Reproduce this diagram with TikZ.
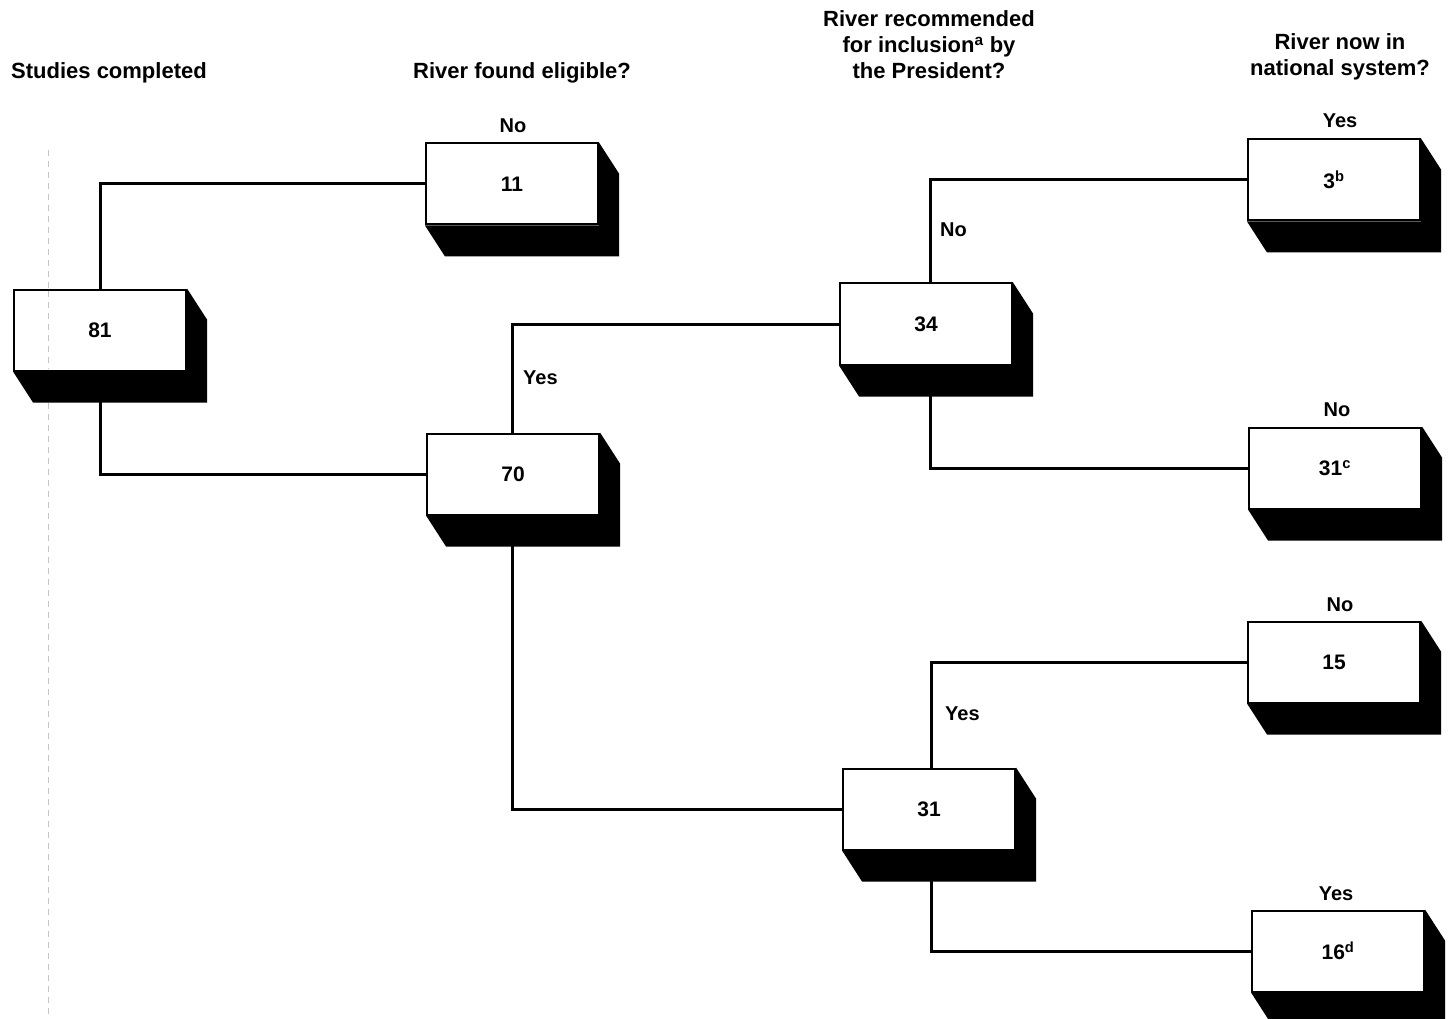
\documentclass[tikz,border=0pt]{standalone}
\usepackage{fontspec}
\setmainfont{Liberation Sans}
\usetikzlibrary{calc}
\tikzset{
  dbox/.style={draw=black, line width=2pt, fill=white, minimum width=172pt, minimum height=81pt, inner sep=0pt, font=\fontsize{21}{25}\selectfont\bfseries},
  conn/.style={line width=3pt},
  lbl/.style={font=\fontsize{20}{24}\selectfont\bfseries, inner sep=0pt},
  hdr/.style={font=\fontsize{22}{26}\selectfont\bfseries, inner sep=0pt, align=center},
}
\begin{document}
\begin{tikzpicture}[x=1pt,y=-1pt]
\useasboundingbox (0,0) rectangle (1449,1019);
% faint scan fold line
\draw[gray!45, line width=0.8pt, dash pattern=on 6pt off 5pt] (48,150) -- (48,1019);
% headers
\node[hdr] (h1) at (109,73) {Studies completed};
\node[hdr] (h2) at (522,73) {River found eligible?};
\node[hdr] (h3) at (929,45) {River recommended\\for inclusion\textsuperscript{a} by\\the President?};
\node[hdr] (h4) at (1340,57) {River now in\\national system?};
% boxes
\node[dbox] (b81) at (100,330) {81};
\node[dbox] (b11) at (512,184) {11};
\node[dbox] (b70) at (513,474) {70};
\node[dbox] (b34) at (926,324) {34};
\node[dbox] (b31) at (929,809) {31};
\node[dbox] (b3) at (1334,180) {3\textsuperscript{b}};
\node[dbox] (b31c) at (1335,468) {31\textsuperscript{c}};
\node[dbox] (b15) at (1334,662) {15};
\node[dbox] (b16) at (1338,951) {16\textsuperscript{d}};
% connectors
\draw[conn] (b81.north) |- (b11.west);
\draw[conn] (b81.south) |- (b70.west);
\draw[conn] ([xshift=-1pt]b70.north) |- (b34.west);
\draw[conn] ([xshift=-1pt]b70.south) |- (b31.west);
\draw[conn] ([xshift=4pt]b34.north) |- (b3.west);
\draw[conn] ([xshift=4pt]b34.south) |- (b31c.west);
\draw[conn] ([xshift=2pt]b31.north) |- (b15.west);
\draw[conn] ([xshift=2pt]b31.south) |- (b16.west);
% shadows
\foreach \n in {b81,b11,b70,b34,b31,b3,b31c,b15,b16}{
  \fill[black] (\n.north east) -- ($(\n.north east)+(20,31)$) -- ($(\n.south east)+(20,31)$)
    -- ($(\n.south west)+(20,31)$) -- (\n.south west) -- (\n.south east) -- cycle;
}
% redraw the fold line over box 81 front
\draw[gray!45, line width=0.8pt, dash pattern=on 6pt off 5pt] (48,291) -- (48,369);
% branch labels
\node[lbl] (l11) at (513,126) {No};
\node[lbl] (l3) at (1340,121) {Yes};
\node[lbl] (l31c) at (1337,410) {No};
\node[lbl] (l15) at (1340,605) {No};
\node[lbl] (l16) at (1336,894) {Yes};
\node[lbl, anchor=west] (lyes1) at (523,378) {Yes};
\node[lbl, anchor=west] (lno2) at (940,230) {No};
\node[lbl, anchor=west] (lyes3) at (945,714) {Yes};
\end{tikzpicture}
\end{document}
